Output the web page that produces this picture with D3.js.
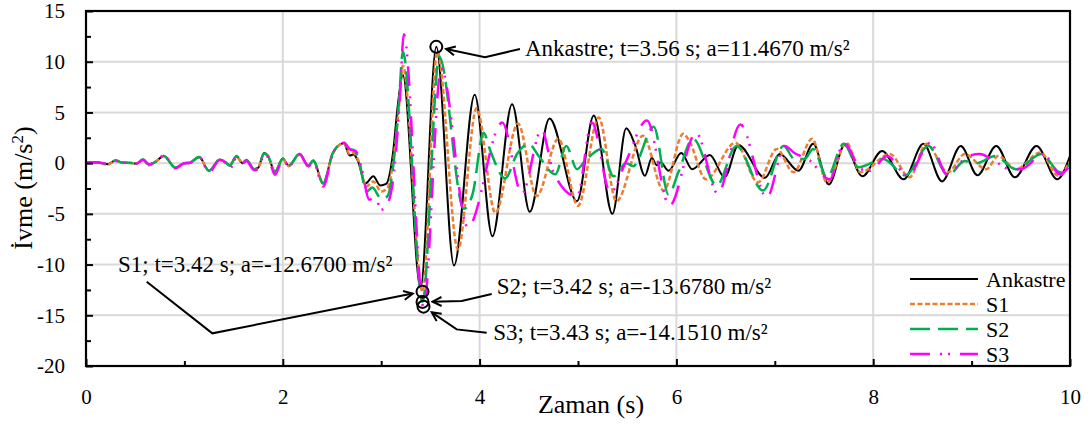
<!DOCTYPE html>
<html><head><meta charset="utf-8">
<script src="https://cdn.jsdelivr.net/npm/d3@7"></script>
<style>body{margin:0;background:#fff} text{font-family:"Liberation Serif","Times New Roman",serif;}</style>
</head><body>
<svg id="chart" width="1091" height="426"></svg>
<script>
// ---------------- DATA ----------------
const timeTicks = [0, 2, 4, 6, 8, 10];
const timeMinorTicks = [1, 3, 5, 7, 9];
const accTicks = [-20, -15, -10, -5, 0, 5, 10, 15];
const accMinorTicks = [-17.5, -12.5, -7.5, -2.5, 2.5, 7.5, 12.5];
const seriesNames = ["Ankastre", "S1", "S2", "S3"];

const ankastre = [[0,0.05],[0.1,0.1],[0.22,-0.1],[0.3,0.25],[0.37,0.05],[0.46,0.02],[0.51,-0.05],[0.58,0.35],[0.64,-0.15],[0.71,0.15],[0.79,0.7],[0.91,-0.45],[1.0,0.0],[1.05,0.02],[1.15,0.6],[1.25,-0.75],[1.36,0.35],[1.42,0.05],[1.46,-0.2],[1.53,0.65],[1.59,0.0],[1.63,0.3],[1.71,-0.6],[1.75,-0.45],[1.81,1.0],[1.85,0.7],[1.92,-0.85],[2.0,0.45],[2.06,-0.25],[2.17,0.9],[2.26,-0.25],[2.31,0.25],[2.41,-2.0],[2.51,1.05],[2.62,1.95],[2.68,0.75],[2.72,0.85],[2.76,0.3],[2.84,-2.0],[2.92,-1.3],[2.99,-2.2],[3.05,-2.05],[3.12,1.0],[3.17,5.8],[3.22,8.7],[3.40,-12.3],[3.56,11.467],[3.74,-10.1],[3.95,6.75],[4.13,-7.2],[4.33,5.8],[4.51,-4.8],[4.71,4.4],[4.99,-3.75],[5.16,4.7],[5.35,-5.0],[5.49,3.45],[5.58,1.8],[5.68,-1.25],[5.75,0.5],[5.80,-0.2],[5.84,0.1],[5.92,-0.75],[6.05,1.0],[6.16,-0.6],[6.34,0.8],[6.49,-1.4],[6.63,1.8],[6.90,-1.45],[7.05,0.9],[7.24,-0.75],[7.39,1.9],[7.55,-2.1],[7.71,1.8],[7.89,-1.3],[8.09,1.2],[8.31,-1.6],[8.51,1.9],[8.70,-1.8],[8.89,1.7],[9.06,-1.2],[9.25,1.7],[9.44,-1.4],[9.66,1.7],[9.87,-1.6],[10.0,0.7]];

const s1 = [[0,0.05],[0.1,0.1],[0.22,-0.15],[0.3,0.25],[0.37,0.05],[0.46,0.02],[0.51,-0.05],[0.58,0.35],[0.64,-0.2],[0.71,0.15],[0.79,0.7],[0.91,-0.45],[1.0,0.0],[1.05,0.02],[1.15,0.6],[1.25,-0.75],[1.36,0.35],[1.42,0.05],[1.46,-0.2],[1.53,0.65],[1.59,0.0],[1.63,0.3],[1.71,-0.6],[1.75,-0.45],[1.81,0.95],[1.85,0.7],[1.92,-0.9],[2.0,0.4],[2.06,-0.3],[2.17,0.85],[2.26,-0.3],[2.31,0.2],[2.41,-2.0],[2.51,1.0],[2.62,1.95],[2.68,0.9],[2.72,1.0],[2.77,0.2],[2.85,-2.3],[2.92,-1.8],[3.0,-2.8],[3.06,-2.5],[3.13,0.8],[3.18,5.5],[3.22,9.6],[3.42,-12.67],[3.57,11.0],[3.78,-8.5],[3.97,5.4],[4.16,-4.9],[4.39,3.9],[4.58,-3.25],[4.80,2.4],[5.0,-4.2],[5.21,4.5],[5.39,-3.75],[5.66,2.7],[5.87,-2.7],[6.07,2.9],[6.13,2.2],[6.30,-1.6],[6.60,2.0],[6.83,-1.9],[7.02,1.4],[7.19,-0.9],[7.38,2.4],[7.53,-1.9],[7.73,2.0],[7.87,-0.9],[8.17,0.9],[8.37,-1.4],[8.54,1.9],[8.76,-0.9],[8.93,0.9],[9.15,-0.6],[9.27,0.7],[9.45,-0.6],[9.70,1.05],[9.88,-1.25],[10.0,0.2]];

const s2 = [[0,0.05],[0.1,0.1],[0.22,-0.1],[0.3,0.25],[0.37,0.05],[0.46,0.02],[0.51,-0.05],[0.58,0.35],[0.64,-0.15],[0.71,0.15],[0.79,0.7],[0.91,-0.45],[1.0,0.0],[1.05,0.02],[1.15,0.6],[1.25,-0.75],[1.36,0.35],[1.42,0.05],[1.46,-0.25],[1.53,0.7],[1.59,0.0],[1.63,0.3],[1.71,-0.6],[1.75,-0.45],[1.81,0.95],[1.85,0.7],[1.92,-0.9],[2.0,0.4],[2.06,-0.25],[2.17,0.9],[2.26,-0.25],[2.31,0.25],[2.41,-2.0],[2.51,1.0],[2.62,2.05],[2.67,1.4],[2.72,1.3],[2.77,0.4],[2.85,-2.8],[2.91,-2.4],[3.0,-3.5],[3.06,-3.3],[3.13,0.4],[3.18,6.0],[3.22,11.0],[3.42,-13.678],[3.59,10.5],[3.84,-4.5],[3.93,-3.0],[4.04,3.0],[4.11,1.2],[4.26,-1.5],[4.38,0.9],[4.50,1.9],[4.60,0.7],[4.77,-1.1],[4.88,1.7],[4.99,-0.6],[5.07,0.2],[5.24,1.4],[5.36,-1.3],[5.49,0.0],[5.56,-0.3],[5.77,3.6],[5.92,-3.1],[6.02,-0.9],[6.17,2.4],[6.41,-2.2],[6.61,1.7],[6.88,-2.7],[7.09,1.7],[7.20,0.4],[7.30,0.4],[7.39,1.4],[7.53,-1.4],[7.70,1.9],[7.85,-0.4],[8.10,0.4],[8.33,-1.2],[8.56,1.7],[8.76,-1.2],[8.93,0.2],[9.05,0.0],[9.24,0.7],[9.45,-0.6],[9.71,0.9],[9.90,-0.9],[10.0,-0.1]];

const s3 = [[0,0.05],[0.1,0.1],[0.22,-0.05],[0.3,0.2],[0.37,0.05],[0.46,0.0],[0.51,-0.05],[0.58,0.3],[0.64,-0.1],[0.71,0.15],[0.79,0.75],[0.91,-0.5],[1.0,0.0],[1.05,0.02],[1.15,0.6],[1.25,-0.9],[1.36,0.3],[1.42,0.05],[1.46,-0.6],[1.53,0.55],[1.59,0.0],[1.63,0.2],[1.71,-0.7],[1.75,-0.55],[1.81,0.75],[1.85,0.6],[1.92,-1.15],[2.0,0.3],[2.06,-0.3],[2.17,0.9],[2.26,-0.3],[2.31,0.15],[2.41,-2.3],[2.51,1.0],[2.62,2.0],[2.69,1.3],[2.74,1.2],[2.80,-0.5],[2.88,-3.6],[2.94,-3.4],[3.0,-4.6],[3.06,-4.1],[3.14,0.0],[3.19,6.5],[3.23,12.7],[3.43,-14.151],[3.61,9.3],[3.88,-6.3],[4.23,4.0],[4.43,-3.0],[4.63,3.3],[4.75,-0.9],[4.99,-3.3],[5.14,4.0],[5.33,-2.9],[5.48,0.0],[5.70,4.2],[5.93,-4.2],[6.20,3.0],[6.42,-3.0],[6.65,3.8],[6.92,-3.4],[7.10,1.7],[7.20,1.0],[7.35,0.3],[7.56,-1.6],[7.70,2.0],[7.88,-0.6],[7.97,-0.75],[8.14,0.7],[8.35,-1.25],[8.58,2.0],[8.75,-1.1],[8.95,0.6],[9.08,0.9],[9.25,0.1],[9.39,-0.6],[9.50,-0.6],[9.73,0.9],[9.90,-1.1],[10.0,-0.2]];

const peakLabels = ["Ankastre; t=3.56 s; a=11.4670 m/s²", "S1; t=3.42 s; a=-12.6700 m/s²", "S2; t=3.42 s; a=-13.6780 m/s²", "S3; t=3.43 s; a=-14.1510 m/s²"];
const peakTimes = [3.56, 3.42, 3.42, 3.43];
const peakValues = [11.467, -12.67, -13.678, -14.151];

// ---------------- LAYOUT / STYLE ----------------
const FONT = '"Liberation Serif","Times New Roman",serif';
const colors = ["#000000", "#ED7D31", "#00B050", "#FF00FF"];
const dashes = [null, "5,2.5", "20,8", "20,10,2,6,2,10"];
const widths = [2, 2.5, 2.5, 2.5];
// callout placement, in data units: text anchor, line start, elbow
const calloutLayout = [
  {text: [4.461, 10.52], start: [4.41, 11.25], elbow: [4.055, 10.44]},
  {text: [0.325, -10.71], start: [0.617, -11.69], elbow: [1.284, -16.78]},
  {text: [4.174, -12.94], start: [4.123, -12.9], elbow: [3.818, -13.6]},
  {text: [4.139, -17.44], start: [4.072, -16.72], elbow: [3.767, -16.39]}
];

const svg = d3.select("#chart");
const x = d3.scaleLinear().domain([0, 10]).range([86, 1070]);
const y = d3.scaleLinear().domain([-20, 15]).range([366, 11]);
const tickFmt = d => String(d);

// gridlines
const grid = svg.append("g").attr("stroke", "#d9d9d9").attr("stroke-width", 2);
grid.selectAll("line.h").data(accTicks.filter(v => v > -20 && v < 15)).join("line")
  .attr("x1", x(0)).attr("x2", x(10)).attr("y1", d => y(d)).attr("y2", d => y(d));
grid.selectAll("line.v").data(timeTicks.filter(v => v > 0 && v < 10)).join("line")
  .attr("y1", y(-20)).attr("y2", y(15)).attr("x1", d => x(d)).attr("x2", d => x(d));

// series
svg.append("clipPath").attr("id", "clip").append("rect")
  .attr("x", x(0)).attr("y", y(15)).attr("width", x(10) - x(0)).attr("height", y(-20) - y(15));
const line = d3.line().x(d => x(d[0])).y(d => y(d[1])).curve(d3.curveMonotoneX);
const allSeries = [ankastre, s1, s2, s3];
const gS = svg.append("g").attr("clip-path", "url(#clip)");
allSeries.forEach((s, i) => {
  gS.append("path").datum(s).attr("d", line).attr("fill", "none")
    .attr("stroke", colors[i]).attr("stroke-width", widths[i])
    .attr("stroke-dasharray", dashes[i]).attr("stroke-linejoin", "round");
});

// axes
svg.append("g").attr("transform", `translate(0,${y(-20)})`)
  .call(d3.axisBottom(x).tickValues(timeTicks).tickSize(-7).tickPadding(23).tickFormat(tickFmt));
svg.append("g").attr("transform", `translate(0,${y(-20)})`)
  .call(d3.axisBottom(x).tickValues(timeMinorTicks).tickSize(-5).tickFormat(""));
svg.append("g").attr("transform", `translate(${x(0)},0)`)
  .call(d3.axisLeft(y).tickValues(accTicks).tickSize(-7).tickPadding(21).tickFormat(tickFmt));
svg.append("g").attr("transform", `translate(${x(0)},0)`)
  .call(d3.axisLeft(y).tickValues(accMinorTicks).tickSize(-5).tickFormat(""));
svg.selectAll(".domain").remove();
svg.selectAll("g[font-family]").attr("font-family", null);
svg.selectAll(".tick line").attr("stroke", "#000").attr("stroke-width", 2);
svg.selectAll(".tick text").style("font-family", FONT).attr("font-size", 21).attr("fill", "#000");

// frame
svg.append("rect").attr("x", x(0)).attr("y", y(15)).attr("width", x(10) - x(0)).attr("height", y(-20) - y(15))
  .attr("fill", "none").attr("stroke", "#000").attr("stroke-width", 2.2);

// axis titles
svg.append("text").attr("x", 591).attr("y", 413).attr("text-anchor", "middle")
  .style("font-family", FONT).attr("font-size", 26).text("Zaman (s)");
const yt = svg.append("text").attr("transform", "translate(32,188) rotate(-90)").attr("text-anchor", "middle")
  .style("font-family", FONT).attr("font-size", 26);
yt.append("tspan").text("İvme (m/s");
yt.append("tspan").attr("dy", -9).attr("font-size", 17).text("2");
yt.append("tspan").attr("dy", 9).text(")");

// arrow marker
svg.append("defs").append("marker").attr("id", "arr").attr("markerUnits", "userSpaceOnUse")
  .attr("viewBox", "-12 -8 14 16").attr("refX", 0).attr("refY", 0)
  .attr("markerWidth", 14).attr("markerHeight", 16).attr("orient", "auto")
  .append("path").attr("d", "M-9,-4.5 L0,0 L-9,4.5").attr("fill", "none").attr("stroke", "#000").attr("stroke-width", 2);

// peak markers and callouts
const R = 6;
peakTimes.forEach((t, i) => {
  const cx = x(t), cy = y(peakValues[i]);
  const L = calloutLayout[i];
  const ex = x(L.elbow[0]), ey = y(L.elbow[1]);
  const dx = ex - cx, dy = ey - cy, dd = Math.hypot(dx, dy);
  const tipX = cx + dx / dd * (R + 4), tipY = cy + dy / dd * (R + 4);
  svg.append("path").attr("d", `M${x(L.start[0])},${y(L.start[1])} L${ex},${ey} L${tipX},${tipY}`)
    .attr("fill", "none").attr("stroke", "#000").attr("stroke-width", 2).attr("marker-end", "url(#arr)");
  svg.append("text").attr("x", x(L.text[0])).attr("y", y(L.text[1]))
    .style("font-family", FONT).attr("font-size", 23).text(peakLabels[i]);
});
peakTimes.forEach((t, i) => {
  svg.append("circle").attr("cx", x(t)).attr("cy", y(peakValues[i])).attr("r", R)
    .attr("fill", "none").attr("stroke", "#000").attr("stroke-width", 2);
});

// legend
const lg = svg.append("g");
seriesNames.forEach((n, i) => {
  const ly = 279 + i * 25;
  lg.append("line").attr("x1", 910).attr("x2", 978).attr("y1", ly).attr("y2", ly)
    .attr("stroke", colors[i]).attr("stroke-width", widths[i]).attr("stroke-dasharray", dashes[i]);
  lg.append("text").attr("x", 986).attr("y", ly).attr("dy", "0.35em")
    .style("font-family", FONT).attr("font-size", 22).text(n);
});
</script>
</body></html>
